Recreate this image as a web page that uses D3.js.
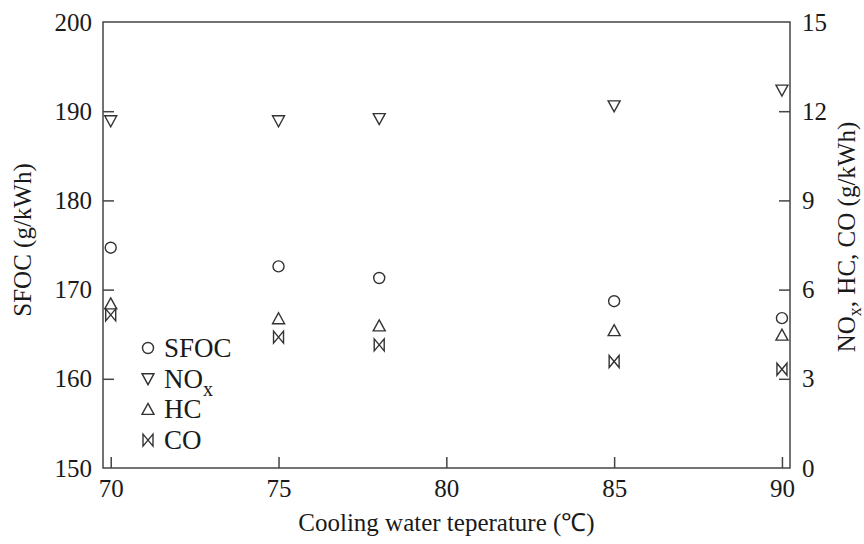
<!DOCTYPE html>
<html>
<head>
<meta charset="utf-8">
<script src="https://cdn.jsdelivr.net/npm/d3@7"></script>
<style>
  html, body { margin: 0; padding: 0; background: #fff; }
</style>
</head>
<body>
<svg id="chart" width="864" height="544"></svg>
<script>
// ---- data ----
const temps = [70, 75, 78, 85, 90];
const sfoc  = [174.7, 172.6, 171.3, 168.7, 166.8];
const nox   = [11.68, 11.68, 11.75, 12.18, 12.71];
const hc    = [5.52, 5.02, 4.78, 4.62, 4.47];
const co    = [5.15, 4.40, 4.14, 3.58, 3.32];

const xTicks = [70, 75, 80, 85, 90];
const yLeftTicks = [150, 160, 170, 180, 190, 200];
const yRightTicks = [0, 3, 6, 9, 12, 15];
const legendLabels = ["SFOC", "NOx", "HC", "CO"];

// ---- layout ----
const svg = d3.select("#chart");
const L = 103, R = 790, T = 22, B = 468;
const FS = 25;
const FONT = "Liberation Serif";
const stroke = "#333";

const x = d3.scaleLinear().domain([69.77, 90.24]).range([L, R]);
const yL = d3.scaleLinear().domain([150, 200]).range([B, T]);
const yR = d3.scaleLinear().domain([0, 15]).range([B, T]);

const gx = svg.append("g").attr("transform", `translate(0,${B})`)
  .call(d3.axisBottom(x).tickValues(xTicks).tickSize(-11).tickSizeOuter(0).tickPadding(11));
const gl = svg.append("g").attr("transform", `translate(${L},0)`)
  .call(d3.axisLeft(yL).tickValues(yLeftTicks).tickSize(-11).tickSizeOuter(0).tickPadding(11));
const gr = svg.append("g").attr("transform", `translate(${R},0)`)
  .call(d3.axisRight(yR).tickValues(yRightTicks).tickSize(-11).tickSizeOuter(0).tickPadding(12));

[gx, gl, gr].forEach(g => {
  g.select(".domain").remove();
  g.selectAll(".tick line").attr("stroke", "#444").attr("stroke-width", 1.5);
  g.selectAll(".tick text").attr("font-size", FS).attr("font-family", FONT).attr("fill", "#1a1a1a");
});
gl.selectAll(".tick").filter(d => d === 150 || d === 200).select("line").remove();
gr.selectAll(".tick").filter(d => d === 0 || d === 15).select("line").remove();

svg.append("rect").attr("x", L).attr("y", T).attr("width", R - L).attr("height", B - T)
  .attr("fill", "none").attr("stroke", "#444").attr("stroke-width", 1.5);

const shapes = {
  circle: "M5.5,0A5.5,5.5 0 1 1 -5.5,0A5.5,5.5 0 1 1 5.5,0Z",
  down: "M-6,-5L6,-5L0,6Z",
  up: "M0,-6L6,5L-6,5Z",
  bowtie: "M-5,-6L5,6L5,-6L-5,6Z"
};

const series = [
  { vals: sfoc, scale: yL, shape: shapes.circle },
  { vals: nox, scale: yR, shape: shapes.down },
  { vals: hc, scale: yR, shape: shapes.up },
  { vals: co, scale: yR, shape: shapes.bowtie }
];

series.forEach(s => {
  svg.append("g").selectAll("path")
    .data(temps.map((t, i) => [t, s.vals[i]]))
    .join("path")
    .attr("d", s.shape)
    .attr("transform", d => `translate(${x(d[0])},${s.scale(d[1])})`)
    .attr("fill", "none").attr("stroke", stroke).attr("stroke-width", 1.4);
});

const lg = svg.append("g").attr("transform", "translate(148,348)");
legendLabels.forEach((lab, i) => {
  const row = lg.append("g").attr("transform", `translate(0,${i * 30.7})`);
  row.append("path").attr("d", series[i].shape)
    .attr("fill", "none").attr("stroke", stroke).attr("stroke-width", 1.4);
  const t = row.append("text").attr("x", 16).attr("y", 0).attr("dy", "0.33em").attr("font-size", FS + 2)
    .attr("font-family", FONT).attr("fill", "#1a1a1a");
  if (lab === "NOx") {
    t.append("tspan").text("NO");
    t.append("tspan").attr("dy", 8).attr("font-size", 20).text("x");
  } else {
    t.text(lab);
  }
});

svg.append("text").attr("x", (L + R) / 2).attr("y", 531).attr("text-anchor", "middle")
  .attr("font-family", FONT).attr("fill", "#1a1a1a")
  .attr("font-size", FS).text("Cooling water teperature (\u2103)");

svg.append("text").attr("transform", "translate(31,240) rotate(-90)").attr("text-anchor", "middle")
  .attr("font-family", FONT).attr("fill", "#1a1a1a")
  .attr("font-size", FS).text("SFOC (g/kWh)");

const rt = svg.append("text").attr("transform", "translate(855,237) rotate(-90)").attr("text-anchor", "middle")
  .attr("font-family", FONT).attr("fill", "#1a1a1a")
  .attr("font-size", FS);
rt.append("tspan").text("NO");
rt.append("tspan").attr("dy", 6).attr("font-size", 18).text("x");
rt.append("tspan").attr("dy", -6).text(", HC, CO (g/kWh)");
</script>
</body>
</html>
